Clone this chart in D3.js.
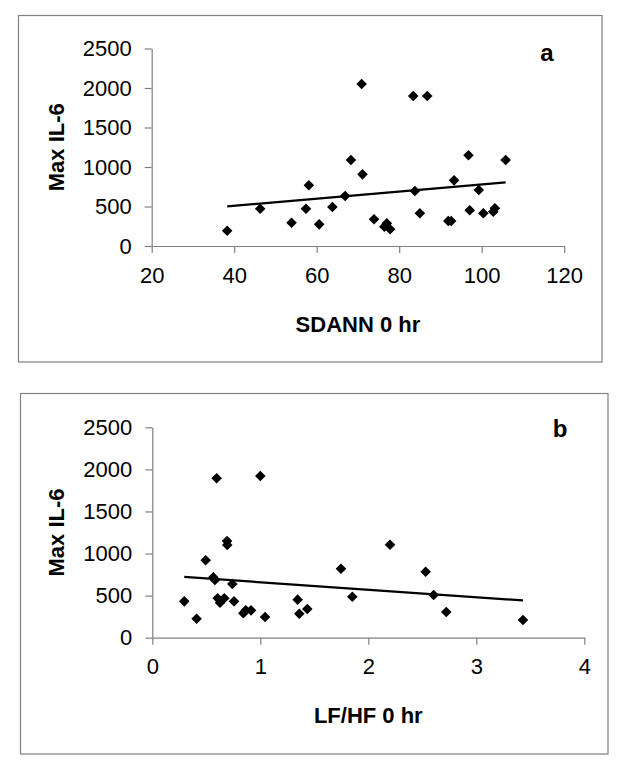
<!DOCTYPE html>
<html>
<head>
<meta charset="utf-8">
<script src="https://cdn.jsdelivr.net/npm/d3@7"></script>
<style>
  html, body { margin: 0; padding: 0; background: #fff; }
  svg { display: block; }
  text { font-family: "Liberation Sans", Arial, sans-serif; fill: #000; }
</style>
</head>
<body>
<svg id="chart" width="627" height="773"></svg>
<script>
// ---- Data ----
const sdann = [38.3,46.3,53.9,57.4,58.1,60.6,63.8,66.9,68.3,70.9,71.1,73.9,76.4,77.0,77.8,83.4,83.8,85.0,86.8,91.9,92.6,93.3,96.8,97.1,99.3,100.4,102.8,103.2,105.8];
const il6A  = [194,472,295,472,768,274,494,633,1089,2051,907,338,245,287,211,1899,696,414,1899,316,316,831,1148,452,709,414,434,477,1089];

const lfhf  = [0.296,0.41,0.494,0.565,0.58,0.596,0.605,0.627,0.667,0.692,0.694,0.741,0.757,0.843,0.865,0.914,1.0,1.044,1.346,1.361,1.435,1.747,1.852,2.201,2.531,2.605,2.722,3.432];
const il6B  = [432,226,920,717,686,1894,468,416,468,1149,1101,638,432,290,325,325,1921,246,452,285,341,820,487,1105,784,507,305,210];

const yTicks  = [0,500,1000,1500,2000,2500];
const xTicksA = [20,40,60,80,100,120];
const xTicksB = [0,1,2,3,4];

const panels = [
  { xs: sdann, ys: il6A, xDomain: [20,120], xTicks: xTicksA, xTitle: "SDANN 0 hr", tag: "a",
    box: [18.5, 15.5, 602, 362], plot: {l:151.7, r:564.2, t:48.5, b:246}, tagPos: [547, 61] },
  { xs: lfhf, ys: il6B, xDomain: [0,4], xTicks: xTicksB, xTitle: "LF/HF 0 hr", tag: "b",
    box: [20.5, 393.5, 608, 754], plot: {l:152.3, r:584.3, t:427.3, b:637.7}, tagPos: [560, 437] }
];

const svg = d3.select("#chart");

function regression(xs, ys) {
  const mx = d3.mean(xs), my = d3.mean(ys);
  let sxy = 0, sxx = 0;
  xs.forEach((x, i) => { sxy += (x - mx) * (ys[i] - my); sxx += (x - mx) * (x - mx); });
  const m = sxy / sxx;
  return { m, c: my - m * mx };
}

panels.forEach(p => {
  const g = svg.append("g");
  g.append("rect")
    .attr("x", p.box[0]).attr("y", p.box[1])
    .attr("width", p.box[2] - p.box[0]).attr("height", p.box[3] - p.box[1])
    .attr("fill", "none").attr("stroke", "#808080").attr("stroke-width", 1.2);

  const x = d3.scaleLinear().domain(p.xDomain).range([p.plot.l, p.plot.r]);
  const y = d3.scaleLinear().domain([0, 2500]).range([p.plot.b, p.plot.t]);

  const xAxis = g.append("g").attr("transform", `translate(0,${p.plot.b})`)
    .call(d3.axisBottom(x).tickValues(p.xTicks).tickSize(7).tickSizeOuter(0).tickPadding(14).tickFormat(d3.format("d")));
  const yAxis = g.append("g").attr("transform", `translate(${p.plot.l},0)`)
    .call(d3.axisLeft(y).tickValues(yTicks).tickSize(7).tickSizeOuter(0).tickPadding(13).tickFormat(d3.format("d")));

  [xAxis, yAxis].forEach(a => {
    a.selectAll(".domain").attr("stroke", "#808080").attr("stroke-width", 1.2);
    a.selectAll(".tick line").attr("stroke", "#808080").attr("stroke-width", 1.2);
    a.selectAll(".tick text")
      .style("font-family", '"Liberation Sans", Arial, sans-serif')
      .style("font-size", "22px").attr("fill", "#000");
  });
  xAxis.selectAll(".tick text").attr("dy", "0.71em");

  g.append("text")
    .attr("x", (p.plot.l + p.plot.r) / 2).attr("y", p.plot.b + 85.5)
    .attr("text-anchor", "middle")
    .style("font-size", "22px").style("font-weight", "bold")
    .text(p.xTitle);
  g.append("text")
    .attr("transform", `translate(64,${(p.plot.t + p.plot.b) / 2}) rotate(-90)`)
    .attr("text-anchor", "middle")
    .style("font-size", "22px").style("font-weight", "bold")
    .text("Max IL-6");

  g.append("text")
    .attr("x", p.tagPos[0]).attr("y", p.tagPos[1])
    .attr("text-anchor", "middle")
    .style("font-size", "24px").style("font-weight", "bold")
    .text(p.tag);

  const r = regression(p.xs, p.ys);
  const xmin = d3.min(p.xs), xmax = d3.max(p.xs);
  g.append("line")
    .attr("x1", x(xmin)).attr("y1", y(r.m * xmin + r.c))
    .attr("x2", x(xmax)).attr("y2", y(r.m * xmax + r.c))
    .attr("stroke", "#000").attr("stroke-width", 2.2);

  g.selectAll("path.pt").data(p.xs.map((v, i) => [v, p.ys[i]]))
    .enter().append("path").attr("class", "pt")
    .attr("d", d3.symbol().type(d3.symbolSquare).size(56))
    .attr("transform", d => `translate(${x(d[0])},${y(d[1])}) rotate(45)`)
    .attr("fill", "#000");
});
</script>
</body>
</html>
